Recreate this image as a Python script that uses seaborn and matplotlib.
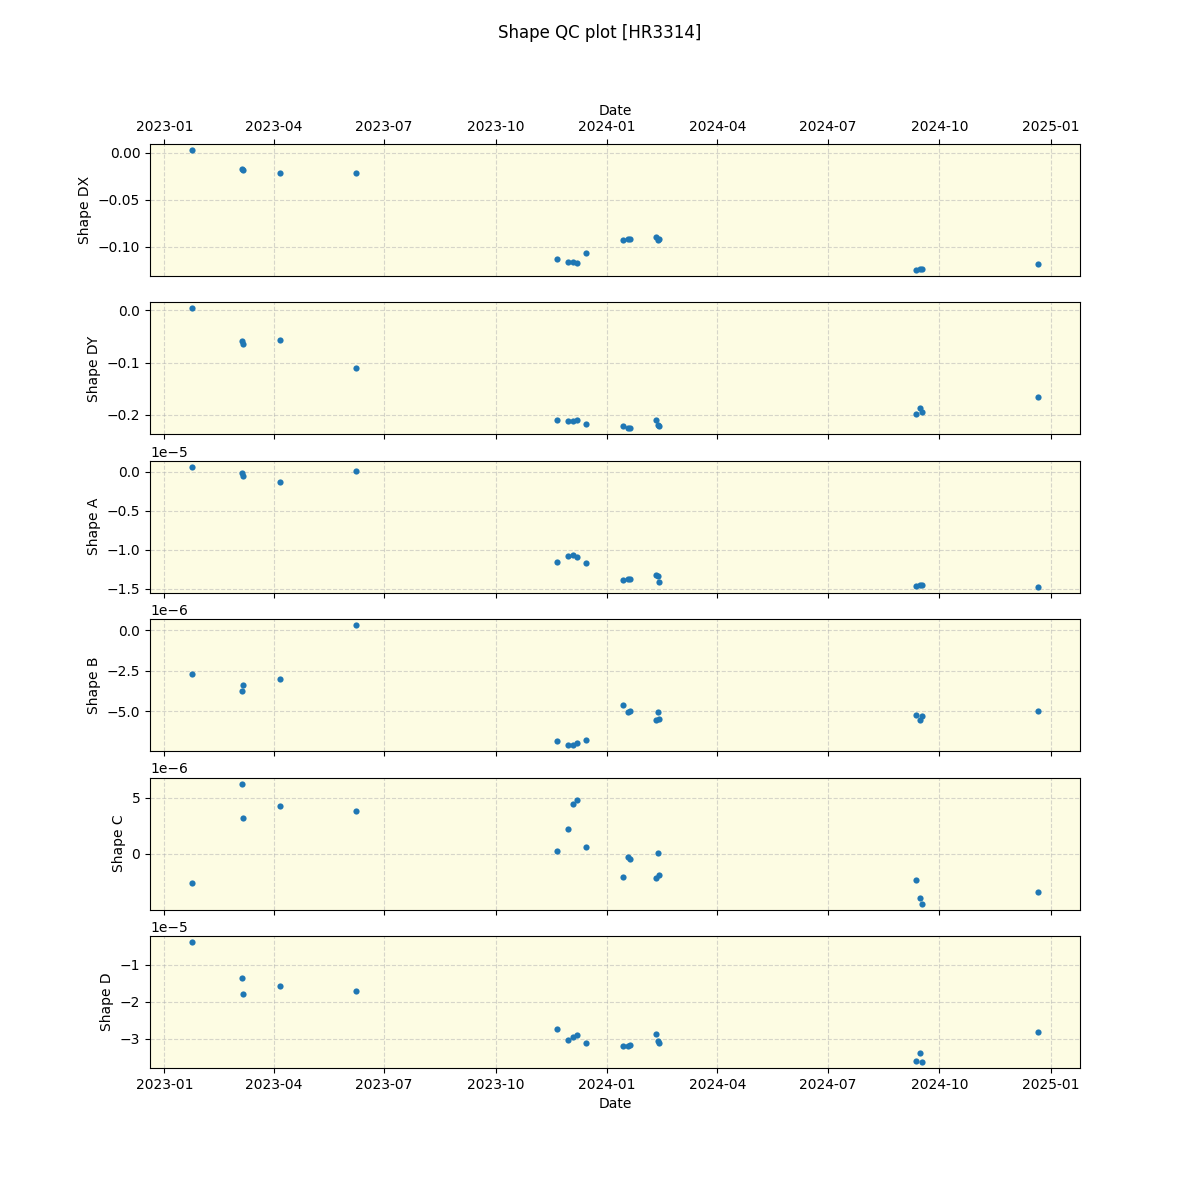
import pandas as pd
import matplotlib
matplotlib.use("Agg")
import matplotlib.pyplot as plt
import seaborn as sns

# Data

dates = [
    "2023-01-24", "2023-03-06", "2023-03-07", "2023-04-06", "2023-06-08",
    "2023-11-21", "2023-11-30", "2023-12-04", "2023-12-07", "2023-12-15",
    "2024-01-14", "2024-01-18", "2024-01-20", "2024-02-10", "2024-02-12",
    "2024-02-13", "2024-09-12", "2024-09-15", "2024-09-17", "2024-12-21",
]

shape_dx = [
    0.003, -0.017, -0.018, -0.022, -0.022,
    -0.113, -0.116, -0.116, -0.117, -0.107,
    -0.093, -0.092, -0.092, -0.090, -0.093,
    -0.092, -0.125, -0.124, -0.124, -0.119,
]

shape_dy = [
    0.004, -0.058, -0.065, -0.056, -0.110,
    -0.210, -0.212, -0.212, -0.210, -0.217,
    -0.221, -0.226, -0.226, -0.210, -0.219,
    -0.221, -0.198, -0.187, -0.194, -0.165,
]

shape_a = [
    0.064e-5, -0.013e-5, -0.051e-5, -0.128e-5, 0.013e-5,
    -1.154e-5, -1.077e-5, -1.064e-5, -1.090e-5, -1.167e-5,
    -1.385e-5, -1.372e-5, -1.372e-5, -1.321e-5, -1.333e-5,
    -1.410e-5, -1.462e-5, -1.449e-5, -1.449e-5, -1.474e-5,
]

shape_b = [
    -2.72e-6, -3.77e-6, -3.40e-6, -3.03e-6, 0.31e-6,
    -6.85e-6, -7.10e-6, -7.10e-6, -6.98e-6, -6.79e-6,
    -4.63e-6, -5.06e-6, -5.00e-6, -5.56e-6, -5.06e-6,
    -5.49e-6, -5.25e-6, -5.56e-6, -5.31e-6, -5.00e-6,
]

shape_c = [
    -2.59e-6, 6.25e-6, 3.21e-6, 4.29e-6, 3.84e-6,
    0.27e-6, 2.23e-6, 4.46e-6, 4.82e-6, 0.63e-6,
    -2.05e-6, -0.27e-6, -0.45e-6, -2.14e-6, 0.09e-6,
    -1.88e-6, -2.32e-6, -3.93e-6, -4.46e-6, -3.39e-6,
]

shape_d = [
    -0.386e-5, -1.360e-5, -1.793e-5, -1.577e-5, -1.712e-5,
    -2.739e-5, -3.036e-5, -2.955e-5, -2.900e-5, -3.116e-5,
    -3.198e-5, -3.198e-5, -3.170e-5, -2.874e-5, -3.063e-5,
    -3.116e-5, -3.603e-5, -3.387e-5, -3.630e-5, -2.820e-5,
]

df = pd.DataFrame({
    "Date": pd.to_datetime(dates),
    "Shape DX": shape_dx,
    "Shape DY": shape_dy,
    "Shape A": shape_a,
    "Shape B": shape_b,
    "Shape C": shape_c,
    "Shape D": shape_d,
})

columns = ["Shape DX", "Shape DY", "Shape A", "Shape B", "Shape C", "Shape D"]

fig, axes = plt.subplots(len(columns), 1, sharex=True, figsize=(12, 12), dpi=100)
fig.suptitle("Shape QC plot [HR3314]")

for ax, col in zip(axes, columns):
    ax.set_facecolor("#fdfce3")
    sns.scatterplot(data=df, x="Date", y=col, ax=ax, color="tab:blue",
                    s=20, linewidth=0, zorder=3)
    ax.grid(True, linestyle="--", color="#b0b0b0", alpha=0.5)
    ax.set_axisbelow(True)
    ax.set_xlabel("")
    ax.set_ylabel(col)

# Dates also shown on top of the first panel
axes[0].xaxis.tick_top()
axes[0].xaxis.set_label_position("top")
axes[0].tick_params(labeltop=True)
axes[0].set_xlabel("Date")
axes[0].xaxis.label.set_visible(True)
axes[-1].set_xlabel("Date")
axes[-1].xaxis.label.set_visible(True)

plt.savefig("out.png")
plt.close()
